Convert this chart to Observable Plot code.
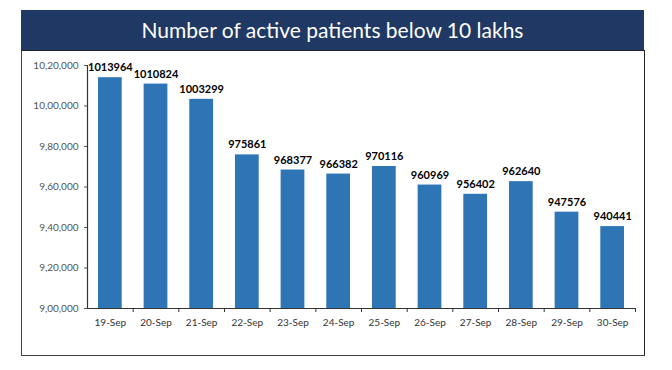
<!DOCTYPE html>
<html>
<head>
<meta charset="utf-8">
<script src="https://cdn.jsdelivr.net/npm/d3@7"></script>
<script src="https://cdn.jsdelivr.net/npm/@observablehq/plot@0.6"></script>
<style>
  html, body { margin: 0; padding: 0; background: #fff; }
  #wrap { position: relative; width: 672px; height: 370px; overflow: hidden; }
  #banner { position: absolute; left: 21px; top: 10px; width: 623px; height: 40px; background: #1f3864;
    color: #fff; font-family: Lato, "Open Sans", sans-serif; font-size: 21px; line-height: 40px; text-align: center; }
  #frame { position: absolute; left: 21px; top: 50px; width: 622px; height: 304px;
    border-left: 1px solid #444; border-right: 1px solid #222; border-bottom: 1px solid #444; border-top: 1px solid #222; }
  #chart { position: absolute; left: 0; top: 0; }
</style>
</head>
<body>
<div id="wrap">
  <div id="frame"></div>
  <div id="banner">Number of active patients below 10 lakhs</div>
  <div id="chart"></div>
</div>
<script>
const dates = ["19-Sep","20-Sep","21-Sep","22-Sep","23-Sep","24-Sep","25-Sep","26-Sep","27-Sep","28-Sep","29-Sep","30-Sep"];
const activeCases = [1013964,1010824,1003299,975861,968377,966382,970116,960969,956402,962640,947576,940441];
const yTicks = [900000,920000,940000,960000,980000,1000000,1020000];
const yTickLabels = ["9,00,000","9,20,000","9,40,000","9,60,000","9,80,000","10,00,000","10,20,000"];

const data = dates.map((d, i) => ({date: d, value: activeCases[i]}));
const W = 672, H = 370, mL = 87, mR = 37, mT = 65, mB = 62;
const step = (W - mL - mR) / dates.length;
const yMin = yTicks[0], yMax = yTicks[yTicks.length - 1];
const tickLen = (yMax - yMin) / (H - mT - mB) * 4;

const chart = Plot.plot({
  width: W, height: H,
  marginLeft: mL, marginRight: mR, marginTop: mT, marginBottom: mB,
  style: {background: "transparent", fontFamily: "Lato, 'Noto Sans', sans-serif"},
  x: {type: "band", domain: dates, paddingInner: 0.48, paddingOuter: 0.24, align: 0.5, round: false},
  y: {domain: [yMin, yMax]},
  marks: [
    Plot.barY(data, {x: "date", y1: yMin, y2: "value", fill: "#2e75b6"}),
    Plot.ruleY([yMin], {stroke: "#333", strokeWidth: 1.2}),
    Plot.ruleX([dates[0]], {x: d => d, dx: -step / 2, y1: yMin, y2: yMax, stroke: "#333", strokeWidth: 1.2}),
    Plot.ruleX(dates.slice(1), {x: d => d, dx: -step / 2, y1: yMin, y2: yMin - tickLen, stroke: "#333"}),
    Plot.ruleX([dates[dates.length - 1]], {x: d => d, dx: step / 2, y1: yMin, y2: yMin - tickLen, stroke: "#333"}),
    Plot.axisY({ticks: yTicks, tickFormat: d => yTickLabels[yTicks.indexOf(d)], tickSize: 3, tickPadding: 6,
      fontSize: 10, color: "#555", label: null}),
    Plot.axisX({tickSize: 0, tickPadding: 10, fontSize: 10, color: "#333", label: null}),
    Plot.text(data, {x: "date", y: "value", text: d => String(d.value), dy: -10, fontWeight: "bold", fontSize: 11, fill: "#000"})
  ]
});
document.getElementById("chart").appendChild(chart);
</script>
</body>
</html>
